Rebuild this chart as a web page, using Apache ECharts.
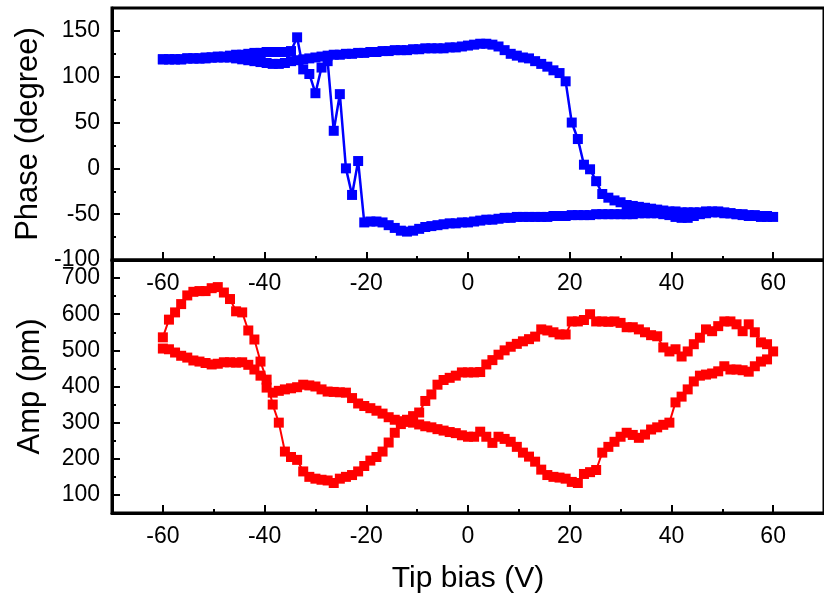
<!DOCTYPE html>
<html><head><meta charset="utf-8">
<script src="https://cdn.jsdelivr.net/npm/echarts@6/dist/echarts.min.js"></script>
<style>html,body{margin:0;padding:0;background:#fff}#c{width:824px;height:601px}</style>
</head><body><div id="c"></div>
<script>
// Tick values
const xTicks = [-60, -40, -20, 0, 20, 40, 60];
const xMinorTicks = [-50, -30, -10, 10, 30, 50];
const phaseTicks = [-100, -50, 0, 50, 100, 150];
const phaseMinorTicks = [-75, -25, 25, 75, 125];
const ampTicks = [100, 200, 300, 400, 500, 600, 700];
const ampMinorTicks = [150, 250, 350, 450, 550, 650];

// Tip bias sweep (V): forward -60 -> 60, then reverse 58.8 -> -60
const biasForward = [
  -60, -58.8, -57.6, -56.4, -55.2, -54, -52.8, -51.6, -50.4, -49.2,
  -48, -46.8, -45.6, -44.4, -43.2, -42, -40.8, -39.6, -38.4, -37.2,
  -36, -34.8, -33.6, -32.4, -31.2, -30, -28.8, -27.6, -26.4, -25.2,
  -24, -22.8, -21.6, -20.4, -19.2, -18, -16.8, -15.6, -14.4, -13.2,
  -12, -10.8, -9.6, -8.4, -7.2, -6, -4.8, -3.6, -2.4, -1.2,
  0, 1.2, 2.4, 3.6, 4.8, 6, 7.2, 8.4, 9.6, 10.8,
  12, 13.2, 14.4, 15.6, 16.8, 18, 19.2, 20.4, 21.6, 22.8,
  24, 25.2, 26.4, 27.6, 28.8, 30, 31.2, 32.4, 33.6, 34.8,
  36, 37.2, 38.4, 39.6, 40.8, 42, 43.2, 44.4, 45.6, 46.8,
  48, 49.2, 50.4, 51.6, 52.8, 54, 55.2, 56.4, 57.6, 58.8,
  60
];
const biasReverse = [
  58.8, 57.6, 56.4, 55.2, 54, 52.8, 51.6, 50.4, 49.2, 48,
  46.8, 45.6, 44.4, 43.2, 42, 40.8, 39.6, 38.4, 37.2, 36,
  34.8, 33.6, 32.4, 31.2, 30, 28.8, 27.6, 26.4, 25.2, 24,
  22.8, 21.6, 20.4, 19.2, 18, 16.8, 15.6, 14.4, 13.2, 12,
  10.8, 9.6, 8.4, 7.2, 6, 4.8, 3.6, 2.4, 1.2, 0,
  -1.2, -2.4, -3.6, -4.8, -6, -7.2, -8.4, -9.6, -10.8, -12,
  -13.2, -14.4, -15.6, -16.8, -18, -19.2, -20.4, -21.6, -22.8, -24,
  -25.2, -26.4, -27.6, -28.8, -30, -31.2, -32.4, -33.6, -34.8, -36,
  -37.2, -38.4, -39.6, -40.8, -42, -43.2, -44.4, -45.6, -46.8, -48,
  -49.2, -50.4, -51.6, -52.8, -54, -55.2, -56.4, -57.6, -58.8, -60
];
// Phase (degree)
const phaseForward = [
  119, 119, 119, 119, 120, 120, 120, 120, 121, 121,
  121, 121, 120, 119, 118, 117, 116, 115, 114, 114,
  115, 117, 118, 119, 120, 121, 122, 123, 124, 124,
  125, 125, 126, 126, 127, 127, 128, 128, 129, 129,
  129, 130, 130, 131, 131, 131, 131, 132, 132, 133,
  134, 135, 136, 136, 135, 133, 129, 125, 123, 121,
  120, 117, 114, 111, 107, 104, 95, 50, 32, 4,
  -1, -14, -28, -32, -35, -37, -40, -41, -42, -43,
  -44, -45, -46, -47, -47, -48, -48, -48, -48, -47,
  -47, -47, -48, -49, -50, -50, -51, -51, -52, -52,
  -53
];
const phaseReverse = [
  -53, -53, -52, -52, -51, -50, -49, -49, -48, -48,
  -49, -50, -52, -54, -54, -53, -51, -50, -49, -49,
  -49, -49, -50, -50, -50, -50, -50, -50, -50, -51,
  -51, -51, -51, -52, -52, -52, -53, -53, -53, -53,
  -53, -53, -54, -54, -55, -56, -56, -57, -58, -59,
  -59, -60, -60, -61, -62, -63, -64, -66, -68, -69,
  -68, -65, -62, -59, -58, -58, -59, 8, -29, 0,
  81, 41, 117, 110, 82, 103, 108, 143, 128, 127,
  127, 127, 127, 126, 126, 125, 124, 124, 123, 122,
  122, 121, 121, 120, 120, 120, 119, 119, 119, 119
];
// Amplitude (pm)
const ampForward = [
  536, 585, 605, 628, 652, 662, 664, 664, 672, 675,
  660, 642, 608, 605, 555, 530, 469, 419, 350, 300,
  220, 205, 197, 165, 150, 145, 142, 140, 133, 145,
  150, 155, 165, 180, 195, 205, 220, 245, 272, 296,
  308, 318, 328, 360, 378, 405, 418, 424, 430, 439,
  439, 439, 440, 461, 473, 488, 500, 510, 518, 525,
  531, 538, 558, 555, 550, 544, 544, 580, 580, 584,
  600, 580, 580, 579, 580, 576, 564, 564, 558, 550,
  542, 539, 508, 497, 503, 483, 497, 517, 535, 558,
  553, 567, 580, 580, 572, 553, 572, 550, 522, 517,
  497
];
const ampReverse = [
  475, 469, 456, 441, 445, 447, 447, 456, 442, 436,
  433, 430, 414, 392, 372, 356, 300, 294, 287, 281,
  267, 258, 266, 272, 261, 247, 233, 217, 169, 163,
  158, 133, 136, 145, 148, 150, 155, 170, 192, 206,
  217, 233, 247, 255, 261, 244, 261, 275, 261, 261,
  265, 271, 274, 278, 282, 287, 290, 295, 300, 302,
  304, 308, 315, 325, 333, 340, 346, 353, 368, 383,
  384, 385, 386, 392, 400, 403, 405, 398, 395, 392,
  388, 383, 397, 430, 447, 460, 467, 466, 467, 467,
  463, 461, 465, 469, 472, 480, 485, 494, 503, 505
];

const pair = (xs, ys) => xs.map((x, i) => [x, ys[i]]);
const phaseData = pair(biasForward, phaseForward).concat(pair(biasReverse, phaseReverse));
const ampData = pair(biasForward, ampForward).concat(pair(biasReverse, ampReverse));

const FONT = '"Liberation Sans", Arial, sans-serif';
const mainLine = {show: true, onZero: false, lineStyle: {color: '#000', width: 3}};
const tickStyle = {color: '#000', width: 2};
const lbl = (vals) => ({fontSize: 23, color: '#000', fontFamily: FONT, margin: 12, customValues: vals,
  showMinLabel: true, showMaxLabel: true, hideOverlap: false});

function majorAxis(grid, pos, min, max, ticks, extra) {
  return Object.assign({gridIndex: grid, type: 'value', position: pos, min: min, max: max,
    axisLine: mainLine,
    axisTick: {show: true, inside: true, length: 8, lineStyle: tickStyle, customValues: ticks},
    axisLabel: lbl(ticks),
    splitLine: {show: false}}, extra || {});
}
function minorAxis(grid, pos, min, max, ticks) {
  return {gridIndex: grid, type: 'value', position: pos, min: min, max: max,
    axisLine: {show: false, onZero: false},
    axisTick: {show: true, inside: true, length: 4, lineStyle: tickStyle, customValues: ticks},
    axisLabel: {show: false}, splitLine: {show: false}};
}
const nameStyle = (fs) => ({fontSize: fs, color: '#000', fontFamily: FONT});

const phaseAxis = majorAxis(0, 'left', -100, 175, phaseTicks, {name: 'Phase (degree)', nameLocation: 'middle',
  nameGap: 68, nameTextStyle: nameStyle(31)});
phaseAxis.axisLabel = {show: false};

// label-only copy of the phase axis on a slightly taller overlay grid (same scale),
// so that the "-100" label is not at the axis end and stays visible
const phaseLabelAxis = {gridIndex: 2, type: 'value', position: 'left', min: -110, max: 175,
  axisLine: {show: false, onZero: false}, axisTick: {show: false}, splitLine: {show: false},
  axisLabel: lbl(phaseTicks)};

const chart = echarts.init(document.getElementById('c'), null, {renderer: 'canvas'});
chart.setOption({
  animation: false,
  backgroundColor: '#fff',
  grid: [
    {left: 112, top: 8, width: 719, height: 252, show: true, borderColor: '#000', borderWidth: 3},
    {left: 112, top: 260, width: 719, height: 253, show: true, borderColor: '#000', borderWidth: 3},
    {left: 112, top: 8, width: 719, height: 252 * 285 / 275, show: false}
  ],
  xAxis: [
    majorAxis(0, 'bottom', -70, 70, xTicks),
    minorAxis(0, 'bottom', -70, 70, xMinorTicks),
    majorAxis(1, 'bottom', -70, 70, xTicks, {name: 'Tip bias (V)', nameLocation: 'middle', nameGap: 51,
      nameTextStyle: nameStyle(30)}),
    minorAxis(1, 'bottom', -70, 70, xMinorTicks),
    {gridIndex: 2, type: 'value', min: -70, max: 70, show: false}
  ],
  yAxis: [
    phaseAxis,
    minorAxis(0, 'left', -100, 175, phaseMinorTicks),
    majorAxis(1, 'left', 50, 750, ampTicks, {name: 'Amp (pm)', nameLocation: 'middle', nameGap: 66,
      nameTextStyle: nameStyle(31)}),
    minorAxis(1, 'left', 50, 750, ampMinorTicks),
    phaseLabelAxis
  ],
  series: [
    {type: 'line', xAxisIndex: 0, yAxisIndex: 0, data: phaseData, symbol: 'rect', symbolSize: 10,
      showAllSymbol: true, itemStyle: {color: '#0000ff'}, lineStyle: {color: '#0000ff', width: 2.5}},
    {type: 'line', xAxisIndex: 2, yAxisIndex: 2, data: ampData, symbol: 'rect', symbolSize: 10,
      showAllSymbol: true, itemStyle: {color: '#ff0000'}, lineStyle: {color: '#ff0000', width: 2}}
  ]
});
</script>
</body></html>
